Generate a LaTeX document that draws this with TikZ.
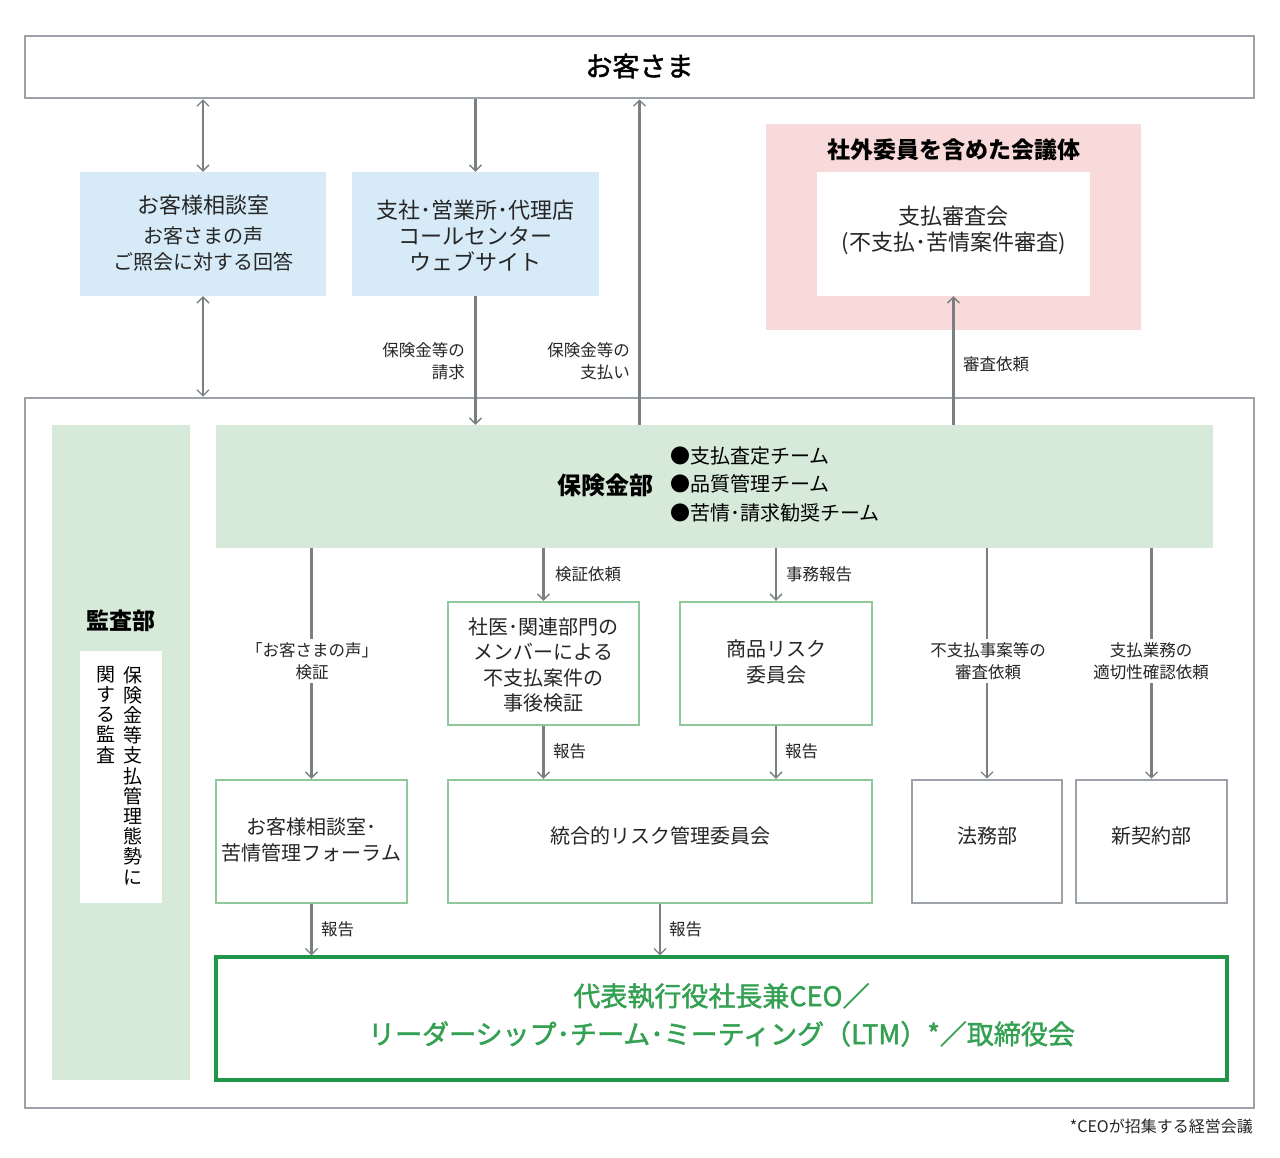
\documentclass[tikz,border=0pt]{standalone}
\usepackage{fontspec}
\setmainfont{Noto Sans CJK JP}
\newfontfamily\medfont{Noto Sans CJK JP}[FakeBold=1.6]
\usetikzlibrary{arrows.meta}
\definecolor{boxgray}{RGB}{156,162,167}
\definecolor{arrgray}{RGB}{122,128,130}
\definecolor{bluefill}{RGB}{214,234,247}
\definecolor{pinkfill}{RGB}{249,218,218}
\definecolor{greenfill}{RGB}{215,234,217}
\definecolor{greenline}{RGB}{142,200,156}
\definecolor{darkgreen}{RGB}{32,150,72}
\definecolor{textgreen}{RGB}{52,160,82}
\newcommand{\fs}[2]{\fontsize{#1}{#2}\selectfont}
\begin{document}
\begin{tikzpicture}[x=1pt,y=-1pt,
  graybox/.style={draw=boxgray, line width=2.6pt, fill=white, inner sep=0pt},
  bluebox/.style={fill=bluefill, inner sep=0pt},
  greenbox/.style={draw=greenline, line width=2.4pt, fill=white, inner sep=0pt},
  lbl/.style={font=\fs{16.5}{22}, inner sep=1pt, text=black!85},
  body/.style={font=\fs{20}{25.5}, align=center, text=black!85},
  arr/.style={draw=arrgray, line width=2.4pt, -{Straight Barb[length=6pt,width=12pt,line width=1.3pt]}},
  dbl/.style={draw=arrgray, line width=2.4pt, {Straight Barb[length=6pt,width=12pt,line width=1.3pt]}-{Straight Barb[length=6pt,width=12pt,line width=1.3pt]}}
]
\useasboundingbox (0,0) rectangle (1280,1157);

% main frames
\node[graybox, minimum width=1229pt, minimum height=62pt] (top) at (639.5,67) {};
\node[font=\medfont\fs{27}{30}] (toptxt) at (639.5,66) {お客さま};
\node[graybox, minimum width=1229pt, minimum height=710pt] (outer) at (639.5,753) {};

% upper boxes
\node[bluebox, minimum width=246pt, minimum height=124pt] (blue1) at (203,234) {};
\node[body] (blue1t) at (203,205) {\fs{22}{26}お客様相談室};
\node[body, font=\fs{20}{26}] (blue1u) at (203,249) {お客さまの声\\ご照会に対する回答};
\node[bluebox, minimum width=247pt, minimum height=124pt] (blue2) at (475.5,234) {};
\node[body, font=\fs{22}{26}] (blue2t) at (475.5,236) {支社･営業所･代理店\\コールセンター\\ウェブサイト};

\node[fill=pinkfill, inner sep=0pt, minimum width=375pt, minimum height=206pt] (pink) at (953.5,227) {};
\node[font=\bfseries\fs{23}{26}] (pinkt) at (953.5,150) {社外委員を含めた会議体};
\node[fill=white, inner sep=0pt, minimum width=273pt, minimum height=124pt] (inner) at (953.5,234) {};
\node[body, font=\fs{22}{26}] (innert) at (953.5,230) {支払審査会\\(不支払･苦情案件審査)};

% audit column
\node[fill=greenfill, inner sep=0pt, minimum width=138pt, minimum height=655pt] (audit) at (121,752.5) {};
\node[font=\bfseries\fs{23}{26}] (auditt) at (121,621) {監査部};
\node[fill=white, inner sep=0pt, minimum width=82pt, minimum height=252pt] (auditw) at (121,777) {};
\node[anchor=north, align=center, font=\fs{19}{20.2}, inner sep=0pt] (vcol1) at (133,666) {保\\険\\金\\等\\支\\払\\管\\理\\態\\勢\\に};
\node[anchor=north, align=center, font=\fs{19}{20.2}, inner sep=0pt] (vcol2) at (106,666) {関\\す\\る\\監\\査};

% hoken
\node[fill=greenfill, inner sep=0pt, minimum width=997pt, minimum height=123pt] (hoken) at (714.5,486.5) {};
\node[font=\bfseries\fs{24}{28}] (hokent) at (605,485) {保険金部};
\node[anchor=west, align=left, font=\fs{20}{28.5}, inner sep=0pt] (teams) at (670,484) {●支払査定チーム\\●品質管理チーム\\●苦情･請求勧奨チーム};

% middle boxes
\node[greenbox, minimum width=191pt, minimum height=123pt] (shai) at (543.5,663.5) {};
\node[body, font=\fs{20}{25.3}] (shait) at (543.5,665) {社医･関連部門の\\メンバーによる\\不支払案件の\\事後検証};
\node[greenbox, minimum width=192pt, minimum height=123pt] (shohin) at (776,663.5) {};
\node[body, font=\fs{20}{26}] (shohint) at (776,662) {商品リスク\\委員会};

\node[greenbox, minimum width=191pt, minimum height=123pt] (forum) at (311.5,841.5) {};
\node[body, font=\fs{20}{25.5}] (forumt) at (311.5,840) {お客様相談室･\\苦情管理フォーラム};
\node[greenbox, minimum width=424pt, minimum height=123pt] (togo) at (660,841.5) {};
\node[body] (togot) at (660,836) {統合的リスク管理委員会};
\node[graybox, minimum width=150pt, minimum height=123pt] (homu) at (987,841.5) {};
\node[body] (homut) at (987,836) {法務部};
\node[graybox, minimum width=151pt, minimum height=123pt] (shinkei) at (1151.5,841.5) {};
\node[body] (shinkeit) at (1151.5,836) {新契約部};

% CEO
\node[draw=darkgreen, line width=3.2pt, fill=white, inner sep=0pt, minimum width=1011pt, minimum height=123pt] (ceo) at (721.5,1018.5) {};
\node[font=\medfont\fs{27}{38}, text=textgreen, align=center] (ceot) at (721.5,1015) {代表執行役社長兼CEO／\\リーダーシップ･チーム･ミーティング（LTM）*／取締役会};

% footnote
\node[anchor=east, font=\fs{16}{20}, text=black!85, inner sep=0pt] (foot) at (1253,1126) {*CEOが招集する経営会議};

% connectors
\draw[dbl] (top.south -| blue1.north) -- (blue1.north);
\draw[arr] (top.south -| blue2.north) -- (blue2.north);
\draw[arr] (hoken.north -| top.south) -- (top.south);
\draw[dbl] (blue1.south) -- (outer.north -| blue1.south);
\draw[arr] (blue2.south) -- (hoken.north -| blue2.south);
\draw[arr] (hoken.north -| inner.south) -- (inner.south);

\draw[arr] (hoken.south -| forum.north) -- (forum.north);
\draw[arr] (hoken.south -| shai.north) -- (shai.north);
\draw[arr] (hoken.south -| shohin.north) -- (shohin.north);
\draw[arr] (hoken.south -| homu.north) -- (homu.north);
\draw[arr] (hoken.south -| shinkei.north) -- (shinkei.north);
\draw[arr] (shai.south) -- (togo.north -| shai.south);
\draw[arr] (shohin.south) -- (togo.north -| shohin.south);
\draw[arr] (forum.south) -- (ceo.north -| forum.south);
\draw[arr] (togo.south) -- (ceo.north -| togo.south);

% labels
\node[lbl, anchor=east, align=right] (l1) at (466,361) {保険金等の\\請求};
\node[lbl, anchor=east, align=right] (l2) at (631,361) {保険金等の\\支払い};
\node[lbl, anchor=west] (l3) at (962,364) {審査依頼};
\node[lbl, anchor=west] (l4) at (554,574) {検証依頼};
\node[lbl, anchor=west] (l5) at (785,574) {事務報告};
\node[lbl, anchor=west] (l6) at (552,751) {報告};
\node[lbl, anchor=west] (l7) at (784,751) {報告};
\node[lbl, anchor=west] (l8) at (320,929) {報告};
\node[lbl, anchor=west] (l9) at (668,929) {報告};
\node[lbl, align=center, fill=white, inner sep=3pt] (l10) at (312,661) {「お客さまの声」\\検証};
\node[lbl, align=center, fill=white, inner sep=3pt] (l11) at (988,661) {不支払事案等の\\審査依頼};
\node[lbl, align=center, fill=white, inner sep=3pt] (l12) at (1151,661) {支払業務の\\適切性確認依頼};
\end{tikzpicture}
\end{document}
